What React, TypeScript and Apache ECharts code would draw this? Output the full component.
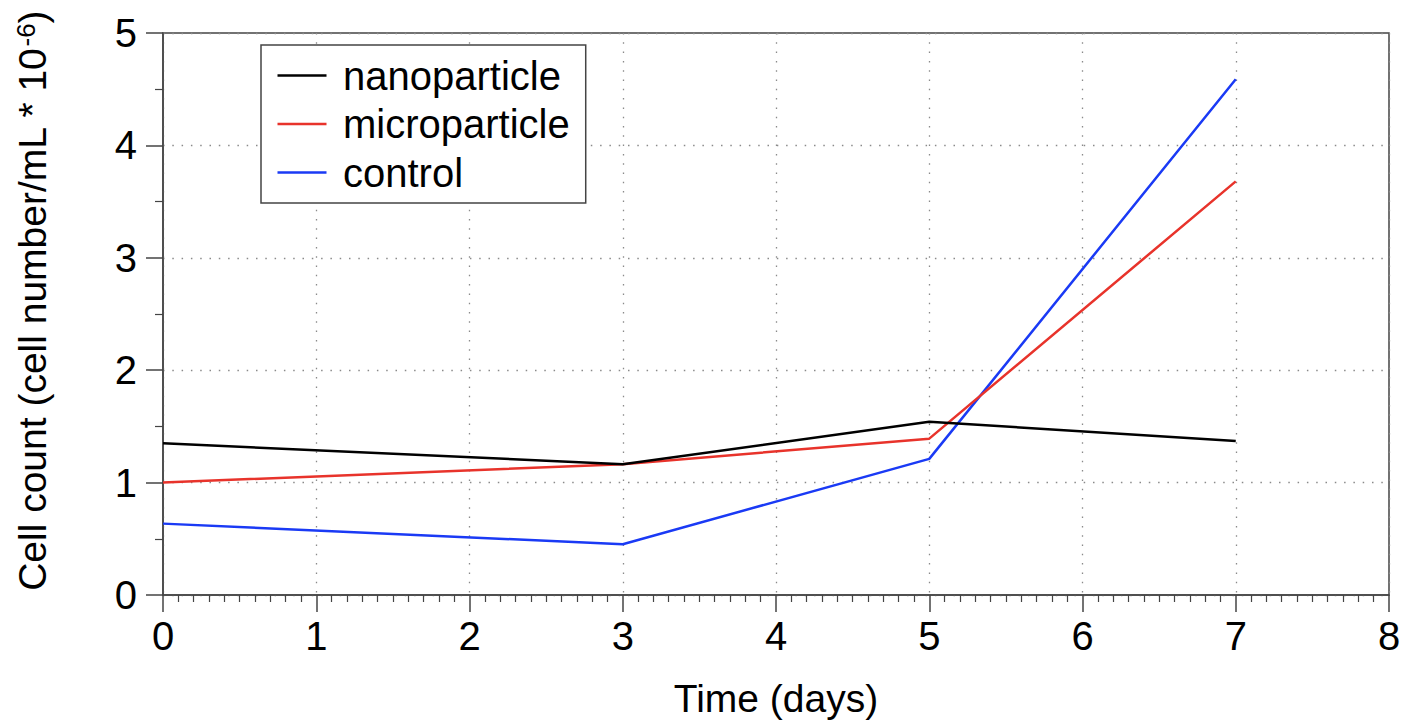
import React, { useEffect, useRef } from "react";
import * as echarts from "echarts";

const days = [0, 3, 5, 7];
const nanoparticle = [1.35, 1.164, 1.541, 1.37];
const microparticle = [1.0, 1.164, 1.391, 3.68];
const control = [0.635, 0.452, 1.211, 4.588];
const seriesNames = ["nanoparticle", "microparticle", "control"];
const seriesColors = ["#000000", "#e8332b", "#1a3af5"];

const FONT = "'Liberation Sans', Arial, Helvetica, sans-serif";

export default function App() {
  const ref = useRef<HTMLDivElement>(null);
  useEffect(() => {
    if (!ref.current) return;
    const chart = echarts.init(ref.current, undefined, { renderer: "svg" });
    const values = [nanoparticle, microparticle, control];
    const gridLine = { show: true, lineStyle: { color: "#8a8a8a", width: 1.3, type: [1.5, 7.8] as any } };
    chart.setOption({
      animation: false,
      backgroundColor: "#ffffff",
      textStyle: { fontFamily: FONT },
      grid: {
        left: 163,
        right: 24,
        top: 33,
        bottom: 125,
        show: true,
        borderColor: "#444",
        borderWidth: 1.5,
        backgroundColor: "transparent",
      },
      legend: {
        left: 261,
        top: 45,
        orient: "vertical",
        icon: "rect",
        itemWidth: 49,
        itemHeight: 2.6,
        itemGap: 0.5,
        padding: [6.5, 16, 6.5, 16.5],
        borderColor: "#444",
        borderWidth: 1.5,
        backgroundColor: "#fff",
        textStyle: { fontSize: 40, color: "#000", fontFamily: FONT, lineHeight: 48, padding: [0, 0, 0, 11.5] },
        data: seriesNames,
      },
      xAxis: {
        type: "value",
        min: 0,
        max: 8,
        interval: 1,
        name: "Time (days)",
        nameLocation: "middle",
        nameGap: 84,
        nameTextStyle: { fontSize: 39, color: "#000", fontFamily: FONT },
        axisLine: { show: true, lineStyle: { color: "#444", width: 1.5 } },
        axisTick: { show: true, length: 17, lineStyle: { color: "#444", width: 1.5 } },
        minorTick: { show: true, splitNumber: 10, length: 7, lineStyle: { color: "#444", width: 1.2 } },
        axisLabel: { fontSize: 40, color: "#000", margin: 21, fontFamily: FONT },
        splitLine: gridLine,
      },
      yAxis: {
        type: "value",
        min: 0,
        max: 5,
        interval: 1,
        name: "{a|Cell count (cell number/mL * 10}{sup|-6}{a|)}",
        nameLocation: "middle",
        nameGap: 111,
        nameTextStyle: {
          color: "#000",
          fontFamily: FONT,
          padding: [0, 0, 0, 26],
          rich: {
            a: { fontSize: 39, lineHeight: 39, verticalAlign: "bottom", color: "#000", fontFamily: FONT },
            sup: { fontSize: 26, lineHeight: 26, verticalAlign: "top", padding: [0, 0, 20, 1], color: "#000", fontFamily: FONT },
          },
        },
        axisLine: { show: true, lineStyle: { color: "#444", width: 1.5 } },
        axisTick: { show: true, length: 17, lineStyle: { color: "#444", width: 1.5 } },
        minorTick: { show: true, splitNumber: 2, length: 8, lineStyle: { color: "#444", width: 1.2 } },
        axisLabel: { fontSize: 40, color: "#000", margin: 26, fontFamily: FONT },
        splitLine: gridLine,
      },
      series: seriesNames.map((name, i) => ({
        name,
        type: "line",
        data: days.map((d, j) => [d, values[i][j]]),
        symbol: "none",
        showSymbol: false,
        color: seriesColors[i],
        lineStyle: { color: seriesColors[i], width: 2.5 },
        z: 3 - i,
      })),
    });
    return () => chart.dispose();
  }, []);
  return (
    <div
      ref={ref}
      style={{ position: "fixed", left: 0, top: 0, width: 1413, height: 723, background: "#fff" }}
    />
  );
}
